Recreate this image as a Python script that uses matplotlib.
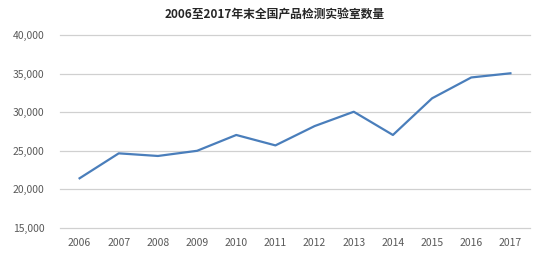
import matplotlib
matplotlib.use("Agg")
import matplotlib.pyplot as plt
from matplotlib.ticker import FuncFormatter

plt.rcParams['font.family'] = ['Noto Sans CJK SC', 'DejaVu Sans']

years = ['2006', '2007', '2008', '2009', '2010', '2011', '2012', '2013', '2014', '2015', '2016', '2017']
labs = [21440, 24670, 24330, 25000, 27050, 25700, 28200, 30060, 27050, 31800, 34500, 35040]
title = '2006至2017年末全国产品检测实验室数量'

fig = plt.figure(figsize=(5.49, 2.62), dpi=100)
ax = fig.add_axes([60/549, 1-228/262, 470/549, 193/262])

x = list(range(len(years)))
ax.plot(x, labs, color='#4A7EBB', linewidth=1.6, solid_joinstyle='round', zorder=3)

ax.set_xlim(-0.5, len(years) - 0.5)
ax.set_ylim(15000, 40000)
ax.set_yticks(range(15000, 40001, 5000))
ax.yaxis.set_major_formatter(FuncFormatter(lambda v, p: f'{int(v):,}'))
ax.set_xticks(x)
ax.set_xticklabels(years)
ax.grid(axis='y', color='#D0D0D0', linewidth=0.9, zorder=0)
for gl in ax.get_ygridlines():
    gl.set_clip_on(False)
for s in ax.spines.values():
    s.set_visible(False)
ax.tick_params(axis='both', length=0, labelsize=7.5, labelcolor='#595959')
ax.tick_params(axis='y', pad=11)
ax.tick_params(axis='x', pad=7)

fig.text(0.5, 1-14/262, title, ha='center', va='center', fontsize=8.5, fontweight='bold', color='#262626')

fig.savefig('out.png', dpi=100)
